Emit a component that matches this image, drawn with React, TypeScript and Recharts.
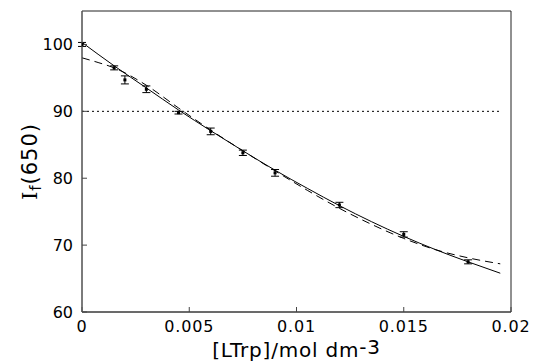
import React from 'react';
import { ComposedChart, Line, Scatter, XAxis, YAxis, ErrorBar, ReferenceArea } from 'recharts';

// Measured points
const concX = [0, 0.0015, 0.002, 0.003, 0.0045, 0.006, 0.0075, 0.009, 0.012, 0.015, 0.018];
const intensity = [100.0, 96.5, 94.7, 93.3, 89.8, 87.0, 83.8, 80.8, 76.0, 71.6, 67.5];
const errors = [0.3, 0.3, 0.6, 0.5, 0.2, 0.5, 0.4, 0.5, 0.4, 0.4, 0.3];

// Solid fit curve
const solidX = [0, 0.0015, 0.003, 0.0045, 0.006, 0.0075, 0.009, 0.0105, 0.012, 0.0135, 0.015, 0.0165, 0.018, 0.0195];
const solidY = [100.3, 96.8, 93.5, 90.2, 87.1, 84.1, 81.2, 78.5, 75.9, 73.5, 71.3, 69.3, 67.5, 65.8];

// Dashed fit curve
const dashedX = [0, 0.00075, 0.0015, 0.003, 0.0045, 0.006, 0.0075, 0.009, 0.0105, 0.012, 0.0135, 0.015, 0.0165, 0.018, 0.0195];
const dashedY = [98.0, 97.3, 96.5, 93.9, 90.5, 87.2, 84.1, 81.1, 78.2, 75.5, 73.1, 71.0, 69.3, 68.1, 67.2];

// Dotted 90% level
const levelX = [0, 0.0195];
const levelY = [90, 90];

const xTicks = [0, 0.005, 0.01, 0.015, 0.02];
const yTicks = [60, 70, 80, 90, 100];

const points = concX.map((x, i) => ({ x, y: intensity[i], err: errors[i] }));
const solidData = solidX.map((x, i) => ({ x, y: solidY[i] }));
const dashedData = dashedX.map((x, i) => ({ x, y: dashedY[i] }));
const levelData = levelX.map((x, i) => ({ x, y: levelY[i] }));

const FONT = '"DejaVu Sans", Verdana, sans-serif';

const YLabel = (props: any) => {
  const vb = props.viewBox || {};
  const cx = vb.x + 37;
  const cy = vb.y + vb.height / 2;
  return (
    <text x={cx} y={cy} transform={`rotate(-90, ${cx}, ${cy})`} textAnchor="middle"
      fontFamily={FONT} fontSize={21} fill="#000" letterSpacing={1}>
      <tspan fontFamily='"DejaVu Serif", serif'>I</tspan>
      <tspan fontSize={15} dy={4}>f</tspan>
      <tspan dy={-4}>(650)</tspan>
    </text>
  );
};

const XLabel = (props: any) => {
  const vb = props.viewBox || {};
  const cx = vb.x + vb.width / 2;
  const cy = vb.y + 45;
  return (
    <text x={cx} y={cy} textAnchor="middle" fontFamily={FONT} fontSize={20} fill="#000" letterSpacing={0.8}>
      <tspan>[LTrp]/mol dm</tspan>
      <tspan dy={-3}>-3</tspan>
    </text>
  );
};

const Marker = (props: any) => {
  const { cx, cy } = props;
  return <rect x={cx - 1.5} y={cy - 1.5} width={3} height={3} fill="#000" />;
};

export default function App() {
  return (
    <div style={{ position: 'absolute', left: 0, top: 0, background: '#fff' }}>
      <ComposedChart width={536} height={364} margin={{ top: 11, right: 25, bottom: 0, left: 0 }}>
        <XAxis dataKey="x" type="number" domain={[0, 0.02]} ticks={xTicks} allowDataOverflow
          height={52} tickSize={-5} tickMargin={14} interval={0}
          axisLine={{ stroke: '#444' }} tickLine={{ stroke: '#444' }}
          tick={{ fontFamily: FONT, fontSize: 16, fill: '#000', letterSpacing: 0.8 }}
          tickFormatter={(v: number) => String(v)}
          label={{ content: XLabel }} />
        <YAxis dataKey="y" type="number" domain={[60, 105]} ticks={yTicks} allowDataOverflow
          width={82} tickSize={-5} tickMargin={14} interval={0}
          axisLine={{ stroke: '#666' }} tickLine={{ stroke: '#444' }}
          tick={{ fontFamily: FONT, fontSize: 16, fill: '#000' }}
          label={{ content: YLabel }} />
        <ReferenceArea x1={0} x2={0.02} y1={60} y2={105} fill="none" stroke="#222" strokeWidth={1} ifOverflow="visible" />
        <Line data={levelData} dataKey="y" type="linear" stroke="#000" strokeWidth={1}
          strokeDasharray="2 3" dot={false} isAnimationActive={false} />
        <Line data={dashedData} dataKey="y" type="monotone" stroke="#000" strokeWidth={1}
          strokeDasharray="8 5" dot={false} isAnimationActive={false} />
        <Line data={solidData} dataKey="y" type="monotone" stroke="#000" strokeWidth={1}
          dot={false} isAnimationActive={false} />
        <Scatter data={points} dataKey="y" fill="#000" shape={<Marker />} isAnimationActive={false}>
          <ErrorBar dataKey="err" direction="y" width={4} stroke="#000" strokeWidth={1} />
        </Scatter>
      </ComposedChart>
    </div>
  );
}
